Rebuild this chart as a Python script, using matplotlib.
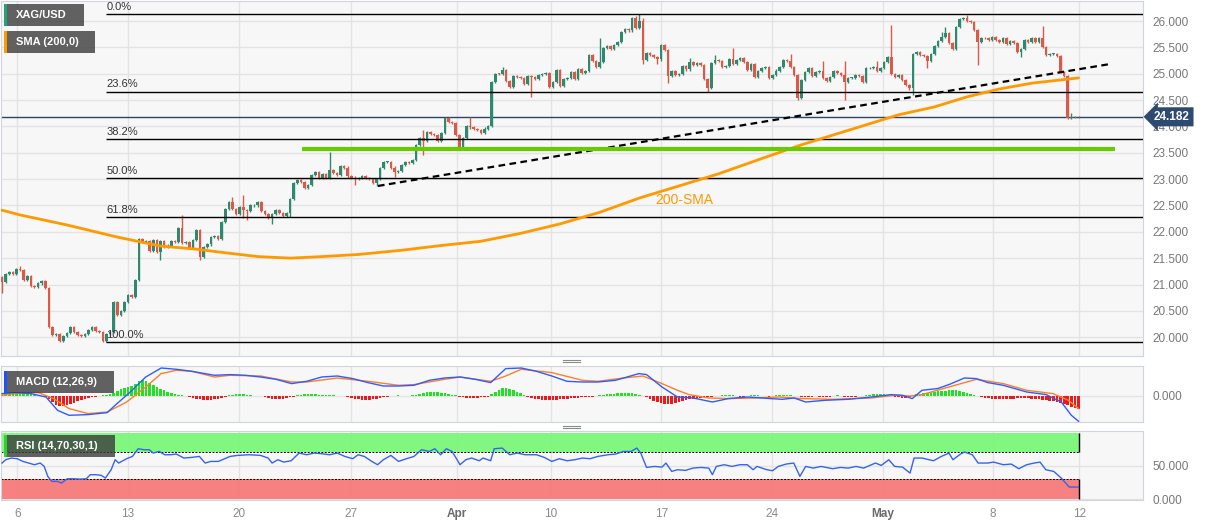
import matplotlib
matplotlib.use("Agg")
import matplotlib.pyplot as plt
import numpy as np
from matplotlib.patches import Rectangle
from matplotlib.lines import Line2D

plt.rcParams['font.family'] = ['Liberation Sans', 'DejaVu Sans']

# XAG/USD 4H closes, Mar 3 -> May 12 (candle index = position on the axis)
closes = [
    21.04, 21.20, 21.24, 21.20, 21.30, 21.28, 21.08, 21.16, 20.98, 20.96,
    21.02, 21.06, 20.93, 20.20, 20.04, 20.06, 19.92, 20.02, 20.08, 20.19,
    20.10, 20.04, 20.03, 20.06, 20.14, 20.20, 20.12, 20.10, 19.93, 20.06,
    20.10, 20.66, 20.42, 20.50, 20.66, 20.80, 20.76, 21.08, 21.86, 21.80,
    21.82, 21.63, 21.84, 21.62, 21.82, 21.72, 21.74, 21.82, 21.80, 22.08,
    21.78, 21.80, 21.70, 21.84, 22.03, 21.52, 21.71, 21.76, 21.90, 21.92,
    21.86, 22.19, 22.43, 22.56, 22.44, 22.33, 22.47, 22.42, 22.40, 22.50,
    22.50, 22.57, 22.40, 22.33, 22.26, 22.33, 22.42, 22.36, 22.30, 22.36,
    22.62, 22.93, 22.98, 22.95, 22.83, 22.89, 23.08, 23.14, 23.02, 23.10,
    23.02, 23.17, 23.12, 23.08, 23.25, 23.22, 23.05, 23.03, 23.00, 23.02,
    23.05, 23.02, 23.00, 22.93, 23.00, 23.21, 23.32, 23.32, 23.22, 23.14,
    23.16, 23.27, 23.32, 23.30, 23.36, 23.65, 23.78, 23.72, 23.89, 23.86,
    23.83, 23.72, 23.88, 24.16, 24.09, 24.06, 23.84, 23.59, 23.78, 24.00,
    23.98, 23.95, 23.93, 23.87, 23.96, 24.00, 24.84, 25.00, 24.99, 25.07,
    24.86, 24.74, 24.96, 24.94, 24.92, 24.80, 24.96, 24.93, 24.90, 24.97,
    24.99, 25.01, 24.75, 24.84, 25.07, 24.76, 24.90, 24.92, 25.03, 24.90,
    25.09, 25.02, 25.05, 25.35, 25.24, 25.13, 25.22, 25.49, 25.53, 25.47,
    25.55, 25.60, 25.79, 25.85, 25.82, 26.06, 25.87, 26.00, 25.26, 25.40,
    25.36, 25.32, 25.27, 25.54, 25.45, 24.96, 25.05, 24.98, 25.00, 25.14,
    25.08, 25.22, 25.17, 25.20, 25.16, 24.90, 24.73, 25.20, 25.26, 25.24,
    25.13, 25.14, 25.28, 25.18, 25.26, 25.30, 25.22, 25.07, 25.19, 24.94,
    25.05, 25.11, 25.13, 24.92, 24.98, 25.06, 25.13, 25.26, 25.24, 25.12,
    24.98, 24.54, 24.88, 25.03, 25.11, 24.96, 25.03, 25.05, 24.92, 24.87,
    24.94, 25.05, 25.01, 24.98, 24.84, 24.92, 24.92, 24.98, 24.96, 24.84,
    25.10, 25.10, 25.13, 25.05, 25.10, 25.22, 25.32, 24.99, 24.93, 24.97,
    24.88, 24.79, 24.72, 25.37, 25.42, 25.36, 25.33, 25.25, 25.37, 25.53,
    25.62, 25.69, 25.77, 25.58, 25.47, 25.89, 26.04, 26.06, 26.00, 25.98,
    25.83, 25.60, 25.68, 25.67, 25.64, 25.70, 25.64, 25.60, 25.67, 25.56,
    25.62, 25.58, 25.41, 25.47, 25.64, 25.60, 25.68, 25.60, 25.68, 25.51,
    25.35, 25.38, 25.38, 25.33, 25.03, 24.96, 24.16, 24.18, 24.17, 24.182,
]
first_open = 21.14

# long wicks
spike_highs = {5: 21.35, 38: 21.88, 50: 22.32, 64: 22.66, 67: 22.70, 91: 23.51,
               117: 23.93, 130: 24.18, 139: 25.12, 166: 25.68, 176: 26.10, 177: 26.13,
               178: 26.06, 191: 25.30, 198: 25.36, 203: 25.49, 219: 25.37, 228: 25.24,
               234: 25.25, 243: 25.25, 247: 25.92, 261: 25.79, 262: 25.88, 268: 26.12,
               289: 25.90, 297: 24.25}
spike_lows = {0: 20.84, 13: 20.18, 16: 19.91, 28: 19.91, 44: 21.47, 55: 21.46,
              67: 22.26, 68: 22.22, 75: 22.15, 80: 22.28, 98: 22.88, 104: 22.87,
              109: 23.04, 117: 23.46, 147: 24.56, 178: 25.18, 182: 25.18, 185: 24.82,
              196: 24.65, 221: 24.50, 234: 24.50, 253: 24.60, 257: 25.10, 271: 25.17,
              283: 25.32, 296: 24.14}

sma_idx = [0, 5, 18, 32, 44, 54, 61, 71, 80, 89, 99, 111, 122, 133, 144, 155, 166,
           177, 188, 199, 211, 222, 231, 240, 249, 259, 268, 277, 286, 299]
sma_val = [22.41, 22.32, 22.13, 21.90, 21.73, 21.67, 21.61, 21.53, 21.50, 21.53,
           21.57, 21.65, 21.74, 21.82, 21.97, 22.15, 22.37, 22.64, 22.87, 23.10,
           23.39, 23.65, 23.84, 24.03, 24.22, 24.37, 24.56, 24.71, 24.82, 24.92]

# MACD values in hundredths
macd_idx = [0, 3.7, 8, 12.2, 15.4, 18.6, 23.9, 29.2, 31.4, 35.6, 39.9, 44.2, 48.4, 52.7,
            59, 63.3, 67.6, 71.8, 76.1, 80.4, 84.6, 88.8, 93.1, 97.4, 101.6, 105.9, 110.1,
            114.4, 118.7, 122.9, 127.2, 131.4, 135.7, 139.9, 144.2, 148.4, 152.7, 156.9,
            161.2, 165.5, 170.4, 176.9, 179, 183.3, 187.6, 192, 197.3, 201.7, 207, 213.5,
            216.7, 220, 223.2, 228.6, 235, 241.5, 246.9, 250.1, 252.8, 255.5, 259.8, 263,
            267.3, 270.6, 273.8, 278.1, 284.6, 290, 294.2, 297, 299]
macd_val = [2.2, 3.2, 2.2, -1.2, -14.5, -19.5, -18.8, -16.8, -9.5, 3.8, 18.8, 27.8, 26.5,
            24.5, 20.5, 21.2, 20.5, 18.8, 16.5, 12.2, 14.5, 18.8, 19.8, 17.2, 13.2, 9.8, 9.8,
            10.5, 15.5, 17.8, 18.8, 16.5, 13.2, 27.2, 27.8, 24.5, 19.8, 14.5, 13.8, 13.8,
            15.5, 22.2, 21.2, 8.8, -1.2, -2.2, -6.2, -2.8, -1.2, -2.8, -3.5, -2.2, -6.2,
            -4.5, -3.5, -1.2, 1.2, 0.5, -2.8, 5.5, 7.2, 11.2, 17.8, 17.2, 13.2, 10.5, 3.8,
            1.2, -6.2, -19.5, -25.5]
signal_idx = [0, 5.8, 10.1, 14.3, 18.6, 23.9, 29.2, 34.6, 39.9, 44.2, 48.4, 52.7, 59, 63.3,
              71.8, 80.4, 84.6, 93.1, 101.6, 110.1, 114.4, 122.9, 127.2, 135.7, 139.9, 144.2,
              152.7, 161.2, 165.5, 172.6, 178, 183.3, 187.6, 190.8, 196.3, 201.7, 209.2,
              215.7, 222.1, 230.7, 241.5, 247.9, 252.2, 255.5, 263, 270.6, 278.1, 284.6,
              291.9, 296.2, 299]
signal_val = [0.5, 3.2, 3.2, -2.8, -12.8, -17.8, -16.2, -6.2, 8.8, 22.2, 25.5, 24.5, 18.8,
              20.5, 19.8, 13.8, 13.8, 17.8, 14.5, 10.5, 11.2, 16.5, 18.8, 14.5, 19.8, 26.5,
              23.2, 15.5, 14.5, 17.8, 19.8, 12.2, 5.5, 1.2, -2.2, -2.8, -2.2, -1.2, -2.8,
              -3.5, -2.2, 0.5, -0.2, 1.2, 8.8, 16.5, 12.2, 5.5, 2.2, -4.5, -12.8]
macd_hist = [
    3, 3, 3, 4, 4, 3, 3, 2, 2,
    1, 0, 0, -1,
    -3, -6, -9, -10, -10, -9, -8, -7, -5, -4, -3, -2, -1,
    -1, 0, 1, 1, 2,
    3, 5, 7, 8, 9, 10, 12, 15, 16, 15, 13, 11, 9, 7, 6, 4, 3, 2, 1, 1, 0,
    -1, -2, -3, -3, -4, -4, -4, -3, -3, -2, -1,
    1, 1, 2, 2, 2, 1, 1, 0,
    0, 0,
    -1, -2, -3, -3, -3, -3, -2, -1, -1,
    1, 1, 2, 2, 2, 2, 1, 1, 1, 1, 1, 0,
    0, 0,
    -1, -2, -3, -3, -4, -4, -4, -3, -3, -2, -1, -1,
    0, 0, 1, 0, 0, 0, 1,
    1, 2, 3, 4, 4, 4, 4, 3, 3, 2, 1, 1,
    -1, -1, -2, -2, -2, -2, -1, -1, -1,
    2, 4, 6, 8, 8, 7, 6, 4, 3, 1,
    -1, -2, -3, -3, -4, -4, -4, -4, -4, -3, -3, -3, -2, -2, -2, -1, -1, -1, -1, 0,
    1, 1, 2, 2, 2, 3, 3, 3, 3, 3, 2, 1, 0,
    -1, -3, -5, -6, -7, -8, -8, -8, -7, -6, -5, -4, -3, -3, -2, -2, -1, -1, -1, 0,
    0, 1, 1, 1, 1, 0, -1, -1, 0, 1, 1, 1, 0, 0, -1,
    0, 1, 1, 1,
    1, 1, 0, 0, -1,
    -1, -1, -1, 0, -1, -1, -1, -1, 0, 1, 0, -1, -1, -1, -1, 0, 0, 1,
    1, 2, 2, 2, 2, 1, 1,
    -1, -1, -2, -2, -1,
    1, 2, 2, 3, 3, 4, 4, 5, 5, 5, 6, 6, 6, 5, 4, 3, 2, 1, 0,
    -1, -2, -2, -3, -3, -3, -3, -3, -3, -3, -2, -2, -2,
    -2, -3, -3, -3, -4, -4, -5, -5, -6, -7, -8, -9, -11, -12, -13,
]

rsi_idx = [0, 1.0, 2.6, 4.2, 5.8, 7.4, 9.0, 10.6, 11.7, 12.7,
           13.8, 15.4, 16.5, 18.1, 19.7, 21.8, 23.4, 24.5, 26.1, 27.6,
           28.7, 30.3, 31.4, 32.4, 34.6, 36.2, 37.8, 39.4, 40.9, 42.0,
           43.6, 45.2, 46.8, 48.4, 50.5, 52.7, 54.8, 56.4, 58.0, 60.1,
           63.3, 65.4, 68.6, 71.8, 73.9, 75.0, 76.6, 78.2, 80.3, 82.5,
           84.6, 86.7, 88.8, 91.0, 93.1, 95.2, 97.4, 98.9, 100.6, 102.7,
           104.3, 105.9, 108.0, 110.1, 112.3, 114.4, 116.5, 118.7, 120.2, 121.8,
           123.4, 125.0, 127.2, 128.8, 130.4, 132.5, 133.6, 135.7, 136.7, 138.9,
           141.0, 143.1, 145.3, 148.4, 150.6, 152.7, 154.8, 156.9, 159.1, 161.2,
           163.3, 165.5, 168.3, 170.4, 172.6, 174.7, 176.3, 177.4, 179.0, 181.2,
           183.3, 184.4, 186.0, 187.6, 189.8, 191.9, 194.1, 196.3, 197.3, 198.4,
           200.6, 202.7, 204.9, 207.0, 208.6, 209.7, 212.4, 214.0, 215.6, 217.8,
           219.9, 221.6, 223.2, 225.3, 227.5, 230.7, 232.9, 235.0, 237.2, 239.3,
           241.5, 242.6, 244.2, 246.3, 247.9, 250.1, 252.2, 253.3, 255.5, 258.7,
           260.9, 263.0, 264.1, 266.2, 267.3, 269.5, 271.1, 273.8, 275.4, 278.1,
           280.3, 282.4, 284.6, 286.7, 288.3, 289.9, 292.1, 294.2, 296.4, 299.0]
rsi_val = [54.0, 58.9, 61.4, 60.4, 56.4, 54.0, 51.5, 54.0, 49.0, 34.2,
           26.8, 26.8, 24.3, 30.7, 30.7, 30.2, 30.7, 36.7, 36.7, 35.7,
           31.7, 44.1, 58.9, 54.0, 60.4, 63.8, 75.2, 73.7, 73.7, 68.8,
           71.2, 66.3, 66.3, 67.3, 61.4, 62.4, 63.8, 54.0, 56.4, 56.4,
           63.8, 65.3, 66.3, 65.3, 61.4, 54.0, 58.9, 55.4, 57.4, 68.8,
           66.3, 68.8, 67.8, 66.3, 68.8, 63.8, 60.4, 66.3, 63.8, 56.4,
           51.5, 58.9, 65.3, 56.4, 60.4, 63.8, 73.7, 71.2, 75.2, 66.3,
           75.2, 71.2, 51.5, 58.9, 61.4, 57.4, 61.4, 57.4, 75.2, 76.2,
           66.3, 68.8, 66.3, 66.3, 62.4, 56.4, 60.4, 57.4, 58.9, 61.4,
           60.4, 63.8, 66.3, 67.3, 71.2, 71.2, 76.2, 68.8, 47.5, 49.0,
           48.0, 54.0, 41.6, 44.1, 43.1, 46.5, 47.5, 46.5, 36.7, 49.0,
           51.5, 49.0, 51.5, 51.5, 44.1, 49.0, 44.1, 42.6, 49.0, 52.5,
           54.0, 34.2, 49.0, 46.5, 49.0, 45.6, 47.5, 46.5, 49.0, 46.5,
           51.5, 54.0, 50.5, 58.9, 49.0, 48.0, 39.1, 61.4, 61.4, 57.4,
           63.8, 68.8, 58.9, 67.3, 70.3, 66.3, 54.0, 54.0, 55.4, 51.5,
           52.5, 45.6, 51.5, 54.0, 55.4, 44.1, 41.6, 31.7, 18.4, 18.4]

tick_pos = [4.2, 35.0, 65.8, 96.9, 126.4, 152.5, 183.1, 213.9, 244.7, 275.3, 299.2]
tick_labels = ['6', '13', '20', '27', 'Apr', '10', '17', '24', 'May', '8', '12']

fib_ratios = [0.0, 0.236, 0.382, 0.5, 0.618, 1.0]
swing_high, swing_low = 26.13, 19.905
fib_start = 29
support_level, support_from, support_to = 23.57, 83.3, 309.2
trend_x, trend_y = [104.4, 308.3], [22.87, 25.19]
last_price = 24.182

GREEN, RED = '#2d8a6e', '#d95a48'
W, H = 1207, 526
XMIN, XMAX = -0.3, 316.9
WICK_PAD = 0.02

fig = plt.figure(figsize=(W / 100, H / 100), dpi=100)
fig.patch.set_facecolor('white')


def panel(top, bottom):
    a = fig.add_axes([1 / W, 1 - bottom / H, 1142 / W, (bottom - top) / H])
    a.set_facecolor('#f7f7f7')
    for s in a.spines.values():
        s.set_color('#cfd4de')
    a.yaxis.tick_right()
    a.tick_params(axis='y', length=0, pad=7, labelsize=8.5, labelcolor='#777777')
    a.tick_params(axis='x', length=0, labelbottom=False)
    a.set_xlim(XMIN, XMAX)
    a.set_xticks(tick_pos)
    a.grid(True, color='#e3e3e3', lw=1)
    a.set_axisbelow(True)
    return a


ax = panel(1, 356)
ax_m = panel(366, 422)
ax_r = panel(431, 500)

# ---- price panel
c = np.array(closes)
o = np.r_[first_open, c[:-1]]
x = np.arange(len(c))
hi = np.maximum(o, c) + WICK_PAD
lo = np.minimum(o, c) - WICK_PAD
for k, v in spike_highs.items():
    hi[k] = v
for k, v in spike_lows.items():
    lo[k] = v
cols = np.where(c >= o, GREEN, RED)
ax.vlines(x, lo, hi, colors=cols, lw=1, zorder=3)
ax.bar(x, np.maximum(np.abs(c - o), 0.015), bottom=np.minimum(o, c), width=0.7,
       color=cols, lw=0, zorder=3)

ax.set_ylim(26 - 335 / 52.7, 26 + 20 / 52.7)
yt = np.arange(20, 26.01, 0.5)
ax.set_yticks(yt, [f'{v:.3f}' for v in yt])

for r in fib_ratios:
    lvl = swing_high - r * (swing_high - swing_low)
    ax.hlines(lvl, fib_start, XMAX, colors='black', lw=1, zorder=4)
    ax.annotate(f'{r * 100:.1f}%', (fib_start, lvl), xytext=(0, 1.5), textcoords='offset points',
                ha='left', va='bottom', fontsize=8, color='#333333', zorder=5)

ax.axhline(last_price, color='#2b4468', lw=1, zorder=2)
ax.plot(sma_idx, sma_val, color='#ff9900', lw=2, zorder=4, solid_capstyle='round')
ax.text(181.4, 22.60, '200-SMA', color='#ff9900', fontsize=10, ha='left', va='center')
ax.plot(trend_x, trend_y, color='black', lw=1.6, dashes=(3, 2), zorder=5)
ax.hlines(support_level, support_from, support_to, colors='#66cc00', lw=3, zorder=5)

ax.annotate(f'{last_price:.3f}', xy=(1, last_price), xycoords=('axes fraction', 'data'),
            xytext=(8, 0), textcoords='offset points', ha='left', va='center',
            color='white', fontsize=8.5, fontweight='bold', annotation_clip=False,
            bbox=dict(boxstyle='larrow,pad=0.3', fc='#2f4a70', ec='none'), zorder=20)

# ---- MACD panel
h = np.array(macd_hist) / 100
ax_m.bar(x, h, width=0.75, color=np.where(h >= 0, '#22e022', '#f01818'), lw=0, zorder=2)
ax_m.plot(signal_idx, np.array(signal_val) / 100, color='#ff7f27', lw=1, zorder=3)
ax_m.plot(macd_idx, np.array(macd_val) / 100, color='#2f5cff', lw=1, zorder=3)
ax_m.set_ylim(-0.262, 0.298)
ax_m.set_yticks([0], ['0.000'])

# ---- RSI panel
x_last = x[-1]
ax_r.fill_between([XMIN, x_last], 70, 99, color='#78f778', alpha=0.93, lw=0, zorder=1)
ax_r.fill_between([XMIN, x_last], 0, 30, color='#f77878', alpha=0.93, lw=0, zorder=1)
ax_r.hlines([70, 30], XMIN, x_last, colors='black', lw=0.7, linestyles=(0, (2, 1.5)), zorder=2)
ax_r.vlines(x_last, 70, 99, colors='black', lw=1, zorder=2)
ax_r.vlines(x_last, 0, 30, colors='black', lw=1, zorder=2)
ax_r.plot(rsi_idx, rsi_val, color='#3563f0', lw=1, zorder=3)
ax_r.set_ylim(-0.8, 101.5)
ax_r.set_yticks([0, 50], ['0.000', '50.000'])
ax_r.tick_params(axis='x', labelbottom=True, pad=6, labelsize=8.5, labelcolor='#8a8a8a')
ax_r.set_xticks(tick_pos, tick_labels)
for t in ax_r.get_xticklabels():
    if t.get_text() in ('Apr', 'May'):
        t.set_fontweight('bold')
        t.set_color('#6a6a6a')


# ---- indicator tags and pane handles
def tag(x0, y0, w, hh, text, bar):
    fig.add_artist(Rectangle((x0 / W, 1 - (y0 + hh) / H), w / W, hh / H, transform=fig.transFigure,
                             fc='#3c3c3c', alpha=0.8, ec='none', zorder=10))
    fig.add_artist(Rectangle((x0 / W, 1 - (y0 + hh) / H), 3 / W, hh / H, transform=fig.transFigure,
                             fc=bar, ec='none', zorder=11))
    fig.text((x0 + 12) / W, 1 - (y0 + hh / 2) / H, text, color='white', fontsize=8,
             fontweight='bold', ha='left', va='center', zorder=12)


tag(4, 4, 80, 22, 'XAG/USD', '#26a07e')
tag(4, 31, 91, 22, 'SMA (200,0)', '#ff9900')
tag(4, 371, 110, 22, 'MACD (12,26,9)', '#2050ff')
tag(4, 435, 111, 22, 'RSI (14,70,30,1)', '#30d030')

for yy in (359.5, 362, 425.5, 428):
    fig.add_artist(Line2D([563 / W, 580 / W], [1 - yy / H, 1 - yy / H], transform=fig.transFigure,
                          color='#8a8a8a', lw=0.8))

fig.savefig('out.png', dpi=100, facecolor='white')
